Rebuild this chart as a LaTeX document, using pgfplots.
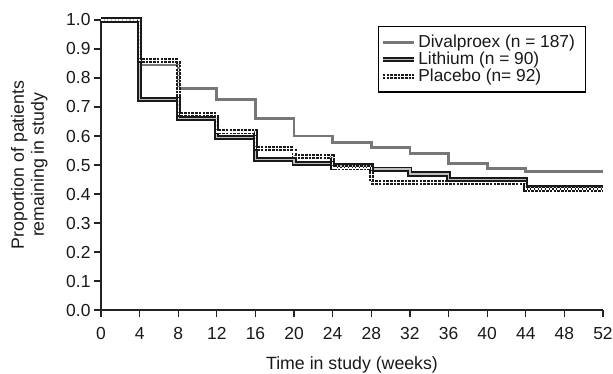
\documentclass[border=0pt]{standalone}
\usepackage{fontspec}
\setmainfont{Liberation Sans}
\usepackage{pgfplots}
\pgfplotsset{compat=1.18}
\definecolor{divgray}{HTML}{777777}
\definecolor{axgray}{HTML}{222222}
\begin{document}
\begin{tikzpicture}
\useasboundingbox (-101bp,-64bp) rectangle (512bp,310bp);
\begin{axis}[
  scale only axis,
  width=502bp, height=290bp,
  xmin=0, xmax=52, ymin=0, ymax=1,
  axis x line=bottom, axis y line=left,
  axis line style={-, line width=1.8bp, color=axgray},
  xtick={0,4,...,52},
  ytick={0,0.1,...,1.0},
  tick align=outside,
  major tick length=7bp,
  tick style={line width=1.3bp, color=axgray},
  yticklabel style={/pgf/number format/.cd, fixed, fixed zerofill, precision=1},
  xticklabel style={yshift=-7bp},
  /pgf/number format/assume math mode=true,
  tick label style={font=\fontsize{17.5}{20}\selectfont, text=black!90},
  label style={font=\fontsize{17.8}{20}\selectfont, text=black!90},
  xlabel={Time in study (weeks)},
  ylabel={Proportion of patients\\remaining in study},
  xlabel style={at={(axis description cs:0.5,-0.19)}, anchor=center},
  ylabel style={at={(axis description cs:-0.143,0.5)}, anchor=center, align=center},
  legend style={at={(axis description cs:0.552,0.979)}, anchor=north west,
    draw=black, line width=1.3bp, font=\fontsize{17.4}{20}\selectfont,
    inner xsep=1.5bp, inner ysep=6.5bp, row sep=-1bp, text=black!90},
  legend cell align=left,
  legend image code/.code={\draw[#1] (0bp,0bp) -- (31bp,0bp);},
  clip=false,
]
\addplot[const plot, color=divgray, line width=2.8bp] coordinates {
(0,1.0) (4,0.845) (8,0.763) (12,0.726) (16,0.660) (20,0.600) (24,0.577)
(28,0.559) (32,0.540) (36,0.506) (40,0.489) (44,0.477) (52,0.477)};
\addlegendentry{Divalproex (n = 187)\hspace*{7bp}}
\addplot[const plot, draw=black!90, line width=1.9bp, double=black!25, double distance=1.3bp] coordinates {
(0,1.0) (4,0.726) (8,0.660) (12,0.594) (16,0.518) (20,0.504) (24,0.497)
(28,0.486) (32,0.469) (36,0.449) (40,0.449) (44,0.423) (52,0.423)};
\addlegendentry{Lithium (n = 90)}
\addplot[const plot, draw=black!90, line width=1.9bp, double=white, double distance=1.3bp, dash pattern=on 2.6bp off 1.1bp] coordinates {
(0,1.0) (4,0.861) (8,0.674) (12,0.614) (16,0.556) (20,0.530) (24,0.490)
(28,0.440) (32,0.440) (36,0.440) (40,0.440) (44,0.417) (52,0.417)};
\addlegendentry{Placebo (n= 92)}
\end{axis}
\end{tikzpicture}
\end{document}
